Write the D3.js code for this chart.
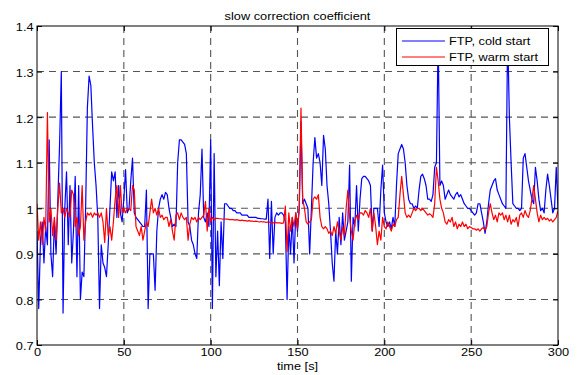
<!DOCTYPE html>
<html><head><meta charset="utf-8">
<script src="https://cdn.jsdelivr.net/npm/d3@7"></script>
<style>
body{margin:0;background:#fff;}
svg{display:block;}
text{font-family:"Liberation Sans",Arial,Helvetica,sans-serif;}
</style></head>
<body>
<svg id="chart" width="577" height="375"></svg>
<script>
const titleText = "slow correction coefficient";
const xLabel = "time [s]";
const seriesNames = ["FTP, cold start", "FTP, warm start"];
const xTicks = [0, 50, 100, 150, 200, 250, 300];
const yTicks = [0.7, 0.8, 0.9, 1.0, 1.1, 1.2, 1.3, 1.4];
const time = d3.range(0, 301);
const coldStart = [
0.95,0.78,0.93,0.97,0.88,0.96,0.92,1.15,0.90,0.85,
0.97,0.90,1.02,1.14,1.30,0.77,1.00,1.08,0.92,1.05,
0.88,0.95,1.07,0.85,1.05,0.80,0.86,0.85,1.00,1.22,
1.29,1.27,1.18,1.10,1.05,0.98,0.78,0.92,0.88,0.87,
0.85,0.92,1.00,1.08,1.06,1.08,0.98,1.05,0.99,0.97,
1.02,1.085,0.99,1.00,1.06,1.11,0.99,0.98,0.975,0.97,
0.965,0.96,0.96,1.04,0.78,0.90,0.90,0.90,0.82,0.95,
1.00,1.02,1.03,1.02,1.035,1.03,1.00,0.98,0.96,0.965,
0.96,1.10,1.15,1.15,1.145,1.14,1.12,0.97,0.96,0.93,
0.92,0.90,0.89,0.99,1.03,1.13,0.98,0.97,0.99,0.96,
1.15,0.78,1.12,0.85,0.95,0.83,0.97,0.89,1.01,1.01,
1.005,1.00,1.00,0.995,0.995,0.99,0.99,0.99,0.985,0.985,
0.985,0.985,0.98,0.98,0.98,0.98,0.98,0.978,0.978,0.977,
0.977,0.976,0.976,1.02,0.89,1.015,0.90,0.98,0.99,0.985,
0.99,0.99,0.985,0.97,0.80,0.96,0.90,0.98,0.88,0.99,
0.95,1.00,1.19,1.01,1.02,1.01,1.00,0.90,1.00,1.10,
1.155,1.11,1.12,1.10,1.05,1.16,1.13,1.05,1.01,0.95,
0.88,0.84,0.95,0.90,0.98,0.92,0.99,0.93,0.95,0.97,
1.095,0.84,0.98,0.96,1.05,0.95,1.02,1.065,1.07,1.07,
1.065,1.06,1.05,0.95,1.00,1.00,1.00,0.96,1.04,1.095,
0.99,0.97,0.96,0.97,0.955,0.98,0.96,1.05,1.12,1.13,
1.14,1.13,1.10,1.05,1.02,1.01,1.01,1.00,1.005,1.00,
1.04,1.07,1.075,1.065,1.05,1.02,1.02,1.015,1.03,1.09,
1.10,1.38,1.05,1.06,1.05,1.02,1.03,1.04,1.03,1.025,
1.02,1.03,1.035,1.025,1.03,1.02,1.01,1.005,1.00,1.00,
0.995,0.99,0.985,0.99,1.01,1.01,0.99,0.97,0.945,0.97,
1.01,1.04,1.05,1.06,1.065,1.04,1.03,1.02,1.01,1.005,
1.00,1.39,1.20,1.10,1.01,1.005,1.00,1.00,0.995,1.00,
1.11,1.12,1.09,1.06,1.04,1.02,1.01,1.09,1.06,1.02,
0.995,1.00,0.99,1.04,1.075,1.05,1.02,0.99,1.00,1.09,
1.00];
const warmStart = [
1.01,0.93,0.97,0.92,0.98,0.95,1.21,0.97,1.00,0.94,
0.98,0.93,1.00,1.055,0.99,1.00,0.98,1.00,0.99,0.98,
1.04,1.03,0.96,0.98,0.94,0.96,1.05,0.93,0.97,0.99,
0.985,0.99,0.98,0.99,0.985,0.99,0.98,0.99,0.97,0.925,
1.00,0.94,0.96,0.93,0.97,1.02,1.05,0.98,1.05,0.99,
1.00,0.99,1.00,1.00,0.995,1.05,1.04,0.96,0.95,0.94,
0.96,0.93,0.95,0.97,0.96,0.99,1.02,0.99,1.00,0.985,
1.00,0.98,0.985,0.975,0.98,0.98,0.96,0.975,0.95,0.93,
0.985,0.99,0.975,0.99,0.98,0.975,0.98,0.93,0.965,0.98,
0.975,0.98,0.97,0.98,0.975,0.98,0.985,1.015,0.95,1.00,
0.97,0.98,0.975,0.978,0.978,0.977,0.977,0.976,0.977,0.976,
0.976,0.975,0.975,0.975,0.974,0.975,0.974,0.973,0.974,0.973,
0.973,0.972,0.973,0.972,0.972,0.971,0.972,0.971,0.970,0.971,
0.970,0.970,0.969,0.970,0.969,0.969,0.968,0.969,0.968,0.968,
0.968,0.967,0.968,1.005,0.905,0.99,0.95,0.98,0.96,0.99,
0.955,1.00,1.22,1.02,1.00,0.97,0.965,0.97,0.975,1.02,
1.025,1.02,1.03,0.98,0.96,0.955,0.96,0.955,0.945,0.95,
0.94,0.96,0.945,0.97,0.95,0.93,0.96,0.94,1.00,1.04,
0.98,0.95,0.93,0.97,0.985,0.975,0.99,0.99,0.985,0.995,
0.99,0.98,1.00,0.95,0.99,0.96,0.92,0.95,0.93,0.98,
0.96,0.955,0.97,0.96,0.95,0.965,0.96,0.975,0.98,1.03,
1.07,1.03,0.99,0.98,0.985,0.98,0.99,1.00,0.995,1.00,
1.00,0.995,1.00,0.995,0.99,0.985,0.988,0.985,0.98,1.01,
1.09,1.06,1.02,1.00,0.99,0.97,0.965,0.975,0.97,0.98,
0.96,0.97,0.955,0.965,0.96,0.97,0.96,0.965,0.955,0.96,
0.958,0.955,0.955,0.952,0.955,0.95,0.955,0.958,0.952,0.96,
0.99,1.01,0.99,0.975,0.985,0.97,0.99,0.985,0.99,0.975,
0.985,0.97,0.985,0.965,0.975,0.97,0.98,0.96,0.985,0.99,
0.98,0.995,0.985,0.98,0.995,1.02,1.05,1.02,0.99,0.97,
0.985,0.975,0.98,0.975,0.978,0.972,0.976,0.97,0.975,0.98,
0.995];
const colors = ["#0000ff", "#ff0000"];

const svg = d3.select("#chart");
const L = 37, R = 558, T = 26, B = 345;
const x = d3.scaleLinear().domain([0, 300]).range([L, R]);
const y = d3.scaleLinear().domain([0.7, 1.4]).range([B, T]);
const SX = 1.16;

// grid
const grid = svg.append("g").attr("stroke", "#555").attr("stroke-width", 1.1).attr("stroke-dasharray", "7,5");
grid.selectAll("line.v").data(xTicks.slice(1, -1)).enter().append("line")
  .attr("x1", d => x(d)).attr("x2", d => x(d)).attr("y1", T).attr("y2", B);
grid.selectAll("line.h").data(yTicks.slice(1, -1)).enter().append("line")
  .attr("y1", d => y(d)).attr("y2", d => y(d)).attr("x1", L).attr("x2", R);

// data
svg.append("clipPath").attr("id", "clip").append("rect")
  .attr("x", L).attr("y", T).attr("width", R - L).attr("height", B - T);
const line = d3.line().x((d, i) => x(time[i])).y(d => y(d));
[coldStart, warmStart].forEach((s, k) => {
  svg.append("path").datum(s).attr("d", line).attr("fill", "none")
    .attr("stroke", colors[k]).attr("stroke-width", 1.2)
    .attr("stroke-linejoin", "round").attr("clip-path", "url(#clip)");
});

// axes
const fmt = d => (Math.abs(d - 1) < 1e-9 ? "1" : d3.format(".1f")(d));
const xAxis = svg.append("g").attr("transform", `translate(0,${B})`)
  .call(d3.axisBottom(x).tickValues(xTicks).tickSizeInner(-5).tickSizeOuter(0).tickPadding(3));
const xTop = svg.append("g").attr("transform", `translate(0,${T})`)
  .call(d3.axisTop(x).tickValues(xTicks).tickSizeInner(-5).tickSizeOuter(0).tickFormat(""));
const yAxis = svg.append("g").attr("transform", `translate(${L},0)`)
  .call(d3.axisLeft(y).tickValues(yTicks).tickFormat(fmt).tickSizeInner(-5).tickSizeOuter(0).tickPadding(4));
const yRight = svg.append("g").attr("transform", `translate(${R},0)`)
  .call(d3.axisRight(y).tickValues(yTicks).tickSizeInner(-5).tickSizeOuter(0).tickFormat(""));
[xAxis, xTop, yAxis, yRight].forEach(g => {
  g.select(".domain").remove();
  g.selectAll("line").attr("stroke", "#000");
});
xAxis.selectAll("text").attr("font-size", 11).attr("fill", "#000")
  .attr("y", 3).attr("dy", "0.71em").attr("transform", `scale(${SX},1)`);
yAxis.selectAll("text").attr("font-size", 11).attr("fill", "#000")
  .attr("x", -3).attr("dy", "0.45em").attr("transform", `scale(${SX},1)`);
svg.append("rect").attr("x", L).attr("y", T).attr("width", R - L).attr("height", B - T)
  .attr("fill", "none").attr("stroke", "#000").attr("stroke-width", 1);

// labels
svg.append("text").attr("transform", `translate(${(L + R) / 2},20) scale(${SX},1)`)
  .attr("text-anchor", "middle").attr("font-size", 11).text(titleText);
svg.append("text").attr("transform", `translate(${(L + R) / 2},369.5) scale(${SX},1)`)
  .attr("text-anchor", "middle").attr("font-size", 11).text(xLabel);

// legend
const lg = svg.append("g");
lg.append("rect").attr("x", 396.5).attr("y", 28.5).attr("width", 152).attr("height", 37)
  .attr("fill", "#fff").attr("stroke", "#000").attr("stroke-width", 1);
seriesNames.forEach((n, k) => {
  const yy = 41 + k * 16;
  lg.append("line").attr("x1", 402).attr("x2", 445).attr("y1", yy).attr("y2", yy)
    .attr("stroke", colors[k]).attr("stroke-width", 1);
  lg.append("text").attr("transform", `translate(449,${yy + 4}) scale(${SX},1)`)
    .attr("font-size", 11).text(n);
});
</script>
</body></html>
